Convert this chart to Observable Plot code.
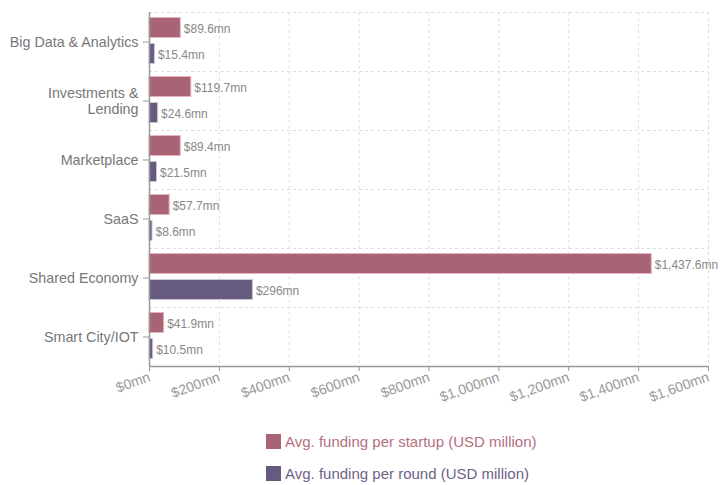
<!DOCTYPE html>
<html>
<head>
<meta charset="utf-8">
<script src="https://cdn.jsdelivr.net/npm/d3@7"></script>
<script src="https://cdn.jsdelivr.net/npm/@observablehq/plot@0.6"></script>
<style>
  body { margin: 0; background: #fff; font-family: "Liberation Sans", Arial, sans-serif; }
  #legend { padding-left: 266px; padding-top: 18px; }
  .row { display: flex; align-items: center; height: 16px; margin-bottom: 16px; font-size: 15px; }
  .sw { width: 15px; height: 15px; margin-right: 4px; }
</style>
</head>
<body>
<div id="chart"></div>
<div id="legend"></div>
<script>
const categories = ["Big Data & Analytics", "Investments & Lending", "Marketplace", "SaaS", "Shared Economy", "Smart City/IOT"];
const perStartup = [89.6, 119.7, 89.4, 57.7, 1437.6, 41.9];
const perRound = [15.4, 24.6, 21.5, 8.6, 296, 10.5];
const seriesNames = ["Avg. funding per startup (USD million)", "Avg. funding per round (USD million)"];
const xTicks = [0, 200, 400, 600, 800, 1000, 1200, 1400, 1600];

const cStartup = "#a86474";
const cRound = "#665a7e";

const dStartup = categories.map((c, i) => ({category: c, value: perStartup[i]}));
const dRound = categories.map((c, i) => ({category: c, value: perRound[i]}));
const money = v => "$" + d3.format(",")(v) + "mn";
const catLabel = c => c === "Investments & Lending" ? "Investments &\nLending" : c;

const plot = Plot.plot({
  width: 724,
  height: 415,
  marginLeft: 149,
  marginRight: 16,
  marginTop: 12,
  marginBottom: 49,
  style: {fontFamily: "Liberation Sans, Arial, sans-serif", background: "#fff"},
  x: {domain: [0, 1600], axis: null, label: null},
  y: {domain: categories, padding: 0, axis: null, label: null},
  marks: [
    Plot.ruleX(xTicks, {stroke: "#ddd", strokeDasharray: "3,3"}),
    Plot.ruleY(categories, {dy: -29.5, stroke: "#ddd", strokeDasharray: "3,3"}),
    Plot.barX(dStartup, {x: "value", y: "category", fill: cStartup, stroke: "#e6b3bf", strokeWidth: 1, insetTop: 5.5, insetBottom: 33.5}),
    Plot.barX(dRound, {x: "value", y: "category", fill: cRound, stroke: "#cbc4d2", strokeWidth: 1, insetTop: 31.5, insetBottom: 7.5}),
    Plot.text(dStartup, {x: "value", y: "category", text: d => money(d.value), dx: 3, dy: -12.5, textAnchor: "start", fill: "#888", fontSize: 12}),
    Plot.text(dRound, {x: "value", y: "category", text: d => money(d.value), dx: 3, dy: 13.5, textAnchor: "start", fill: "#888", fontSize: 12}),
    Plot.ruleX([0], {stroke: "#999", strokeWidth: 1.5}),
    Plot.ruleY([categories[categories.length - 1]], {dy: 29.5, stroke: "#999", strokeWidth: 1.5}),
    Plot.axisY({label: null, tickSize: 6, tickPadding: 5, tickFormat: catLabel, fontSize: 14.3, color: "#777", stroke: "#999", lineHeight: 1.15}),
    Plot.axisX({label: null, ticks: xTicks, tickSize: 5, tickPadding: 5, tickRotate: -20, tickFormat: money, fontSize: 14, color: "#999", stroke: "#999"})
  ]
});
document.getElementById("chart").appendChild(plot);

const legend = document.getElementById("legend");
[[seriesNames[0], cStartup, "#b46f80"], [seriesNames[1], cRound, "#6e5f88"]].forEach(([name, col, tcol]) => {
  const row = document.createElement("div");
  row.className = "row";
  const sw = document.createElement("div");
  sw.className = "sw";
  sw.style.background = col;
  const t = document.createElement("span");
  t.textContent = name;
  t.style.color = tcol;
  row.appendChild(sw);
  row.appendChild(t);
  legend.appendChild(row);
});
</script>
</body>
</html>
